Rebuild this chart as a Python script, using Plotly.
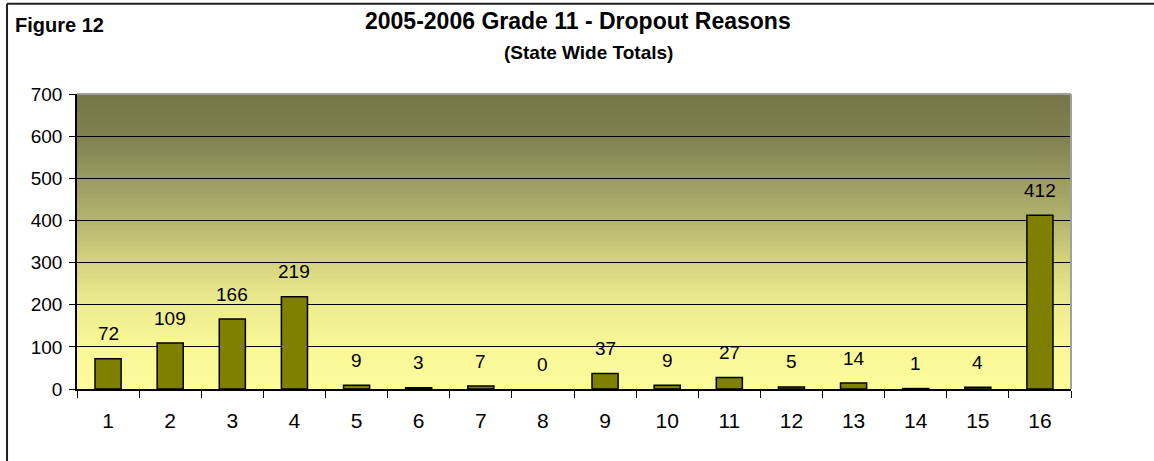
import plotly.graph_objects as go

categories = [str(i) for i in range(1, 17)]
values = [72, 109, 166, 219, 9, 3, 7, 0, 37, 9, 27, 5, 14, 1, 4, 412]
y_ticks = [0, 100, 200, 300, 400, 500, 600, 700]

FONT = "Arial, 'Liberation Sans', Helvetica, sans-serif"

# background gradient stops (axis value -> colour)
grad_stops = [(0, (252, 252, 156)), (100, (248, 248, 152)), (200, (236, 236, 142)),
              (300, (212, 212, 128)), (400, (180, 180, 112)), (500, (154, 154, 98)),
              (600, (128, 128, 80)), (700, (118, 118, 72))]


def colour_at(v):
    for (a, ca), (b, cb) in zip(grad_stops[:-1], grad_stops[1:]):
        if a <= v <= b:
            t = (v - a) / (b - a)
            c = [round(ca[i] + (cb[i] - ca[i]) * t) for i in range(3)]
            return "rgb(%d,%d,%d)" % tuple(c)
    return "rgb(%d,%d,%d)" % grad_stops[-1][1]


fig = go.Figure()
fig.add_trace(go.Bar(
    x=categories, y=values,
    marker=dict(color="#808000",
                line=dict(color="#000000", width=[1.5 if v > 0 else 0 for v in values])),
    hoverinfo="x+y",
))

shapes = []
step = 5
for v0 in range(0, 700, step):
    shapes.append(dict(type="rect", xref="paper", yref="y", x0=0, x1=1, y0=v0, y1=min(v0 + 3 * step, 700),
                       fillcolor=colour_at(v0 + step / 2), line=dict(width=0), layer="below"))
# grey top and right border of plot area
shapes.append(dict(type="line", xref="paper", yref="paper", x0=0, x1=1, y0=1, y1=1,
                   line=dict(color="#a0a0a0", width=2), layer="above"))
shapes.append(dict(type="line", xref="paper", yref="paper", x0=1, x1=1, y0=0, y1=1,
                   line=dict(color="#a0a0a0", width=2), layer="above"))
# outer figure frame (left and top edges)
shapes.append(dict(type="line", xref="paper", yref="paper", x0=-0.0704, x1=-0.0704, y0=-0.4, y1=1.3063,
                   line=dict(color="#202020", width=2)))
shapes.append(dict(type="line", xref="paper", yref="paper", x0=-0.0704, x1=1.2, y0=1.3063, y1=1.3063,
                   line=dict(color="#202020", width=2)))

annotations = []
for i, v in enumerate(values):
    annotations.append(dict(x=i, y=v, xref="x", yref="y", text=str(v), showarrow=False,
                            yanchor="middle", yshift=25, font=dict(family=FONT, size=19, color="#000")))

annotations.append(dict(x=0.504, y=1.247, xref="paper", yref="paper", showarrow=False,
                        text="<b>2005-2006 Grade 11 - Dropout Reasons</b>",
                        font=dict(family=FONT, size=23, color="#000"), xanchor="center", yanchor="middle"))
annotations.append(dict(x=0.515, y=1.142, xref="paper", yref="paper", showarrow=False,
                        text="<b>(State Wide Totals)</b>",
                        font=dict(family=FONT, size=19, color="#000"), xanchor="center", yanchor="middle"))
annotations.append(dict(x=-0.0644, y=1.234, xref="paper", yref="paper", showarrow=False,
                        text="<b>Figure 12</b>",
                        font=dict(family=FONT, size=20, color="#000"), xanchor="left", yanchor="middle"))

fig.update_layout(
    width=1154, height=461,
    margin=dict(l=77, r=83, t=94, b=72),
    paper_bgcolor="#ffffff", plot_bgcolor="rgba(0,0,0,0)",
    showlegend=False,
    bargap=0.58,
    shapes=shapes, annotations=annotations,
    font=dict(family=FONT, color="#000"),
)
fig.update_xaxes(
    type="category", categoryorder="array", categoryarray=categories,
    range=[-0.5, len(categories) - 0.5],
    showline=True, linecolor="#000", linewidth=1.5,
    ticks="outside", tickson="boundaries", ticklen=7, tickcolor="#000", tickwidth=1,
    showgrid=False, tickfont=dict(family=FONT, size=21), ticklabelstandoff=12,
)
fig.update_yaxes(
    range=[0, 700], tickvals=y_ticks,
    showline=True, linecolor="#000", linewidth=1.5,
    ticks="outside", ticklen=6, tickcolor="#000",
    showgrid=True, gridcolor="#000", gridwidth=1, zeroline=False,
    tickfont=dict(family=FONT, size=19), ticklabelstandoff=3,
)

fig.write_html("out.html", config={"displayModeBar": False},
               post_script="document.body.style.margin='0';document.body.style.padding='0';")
